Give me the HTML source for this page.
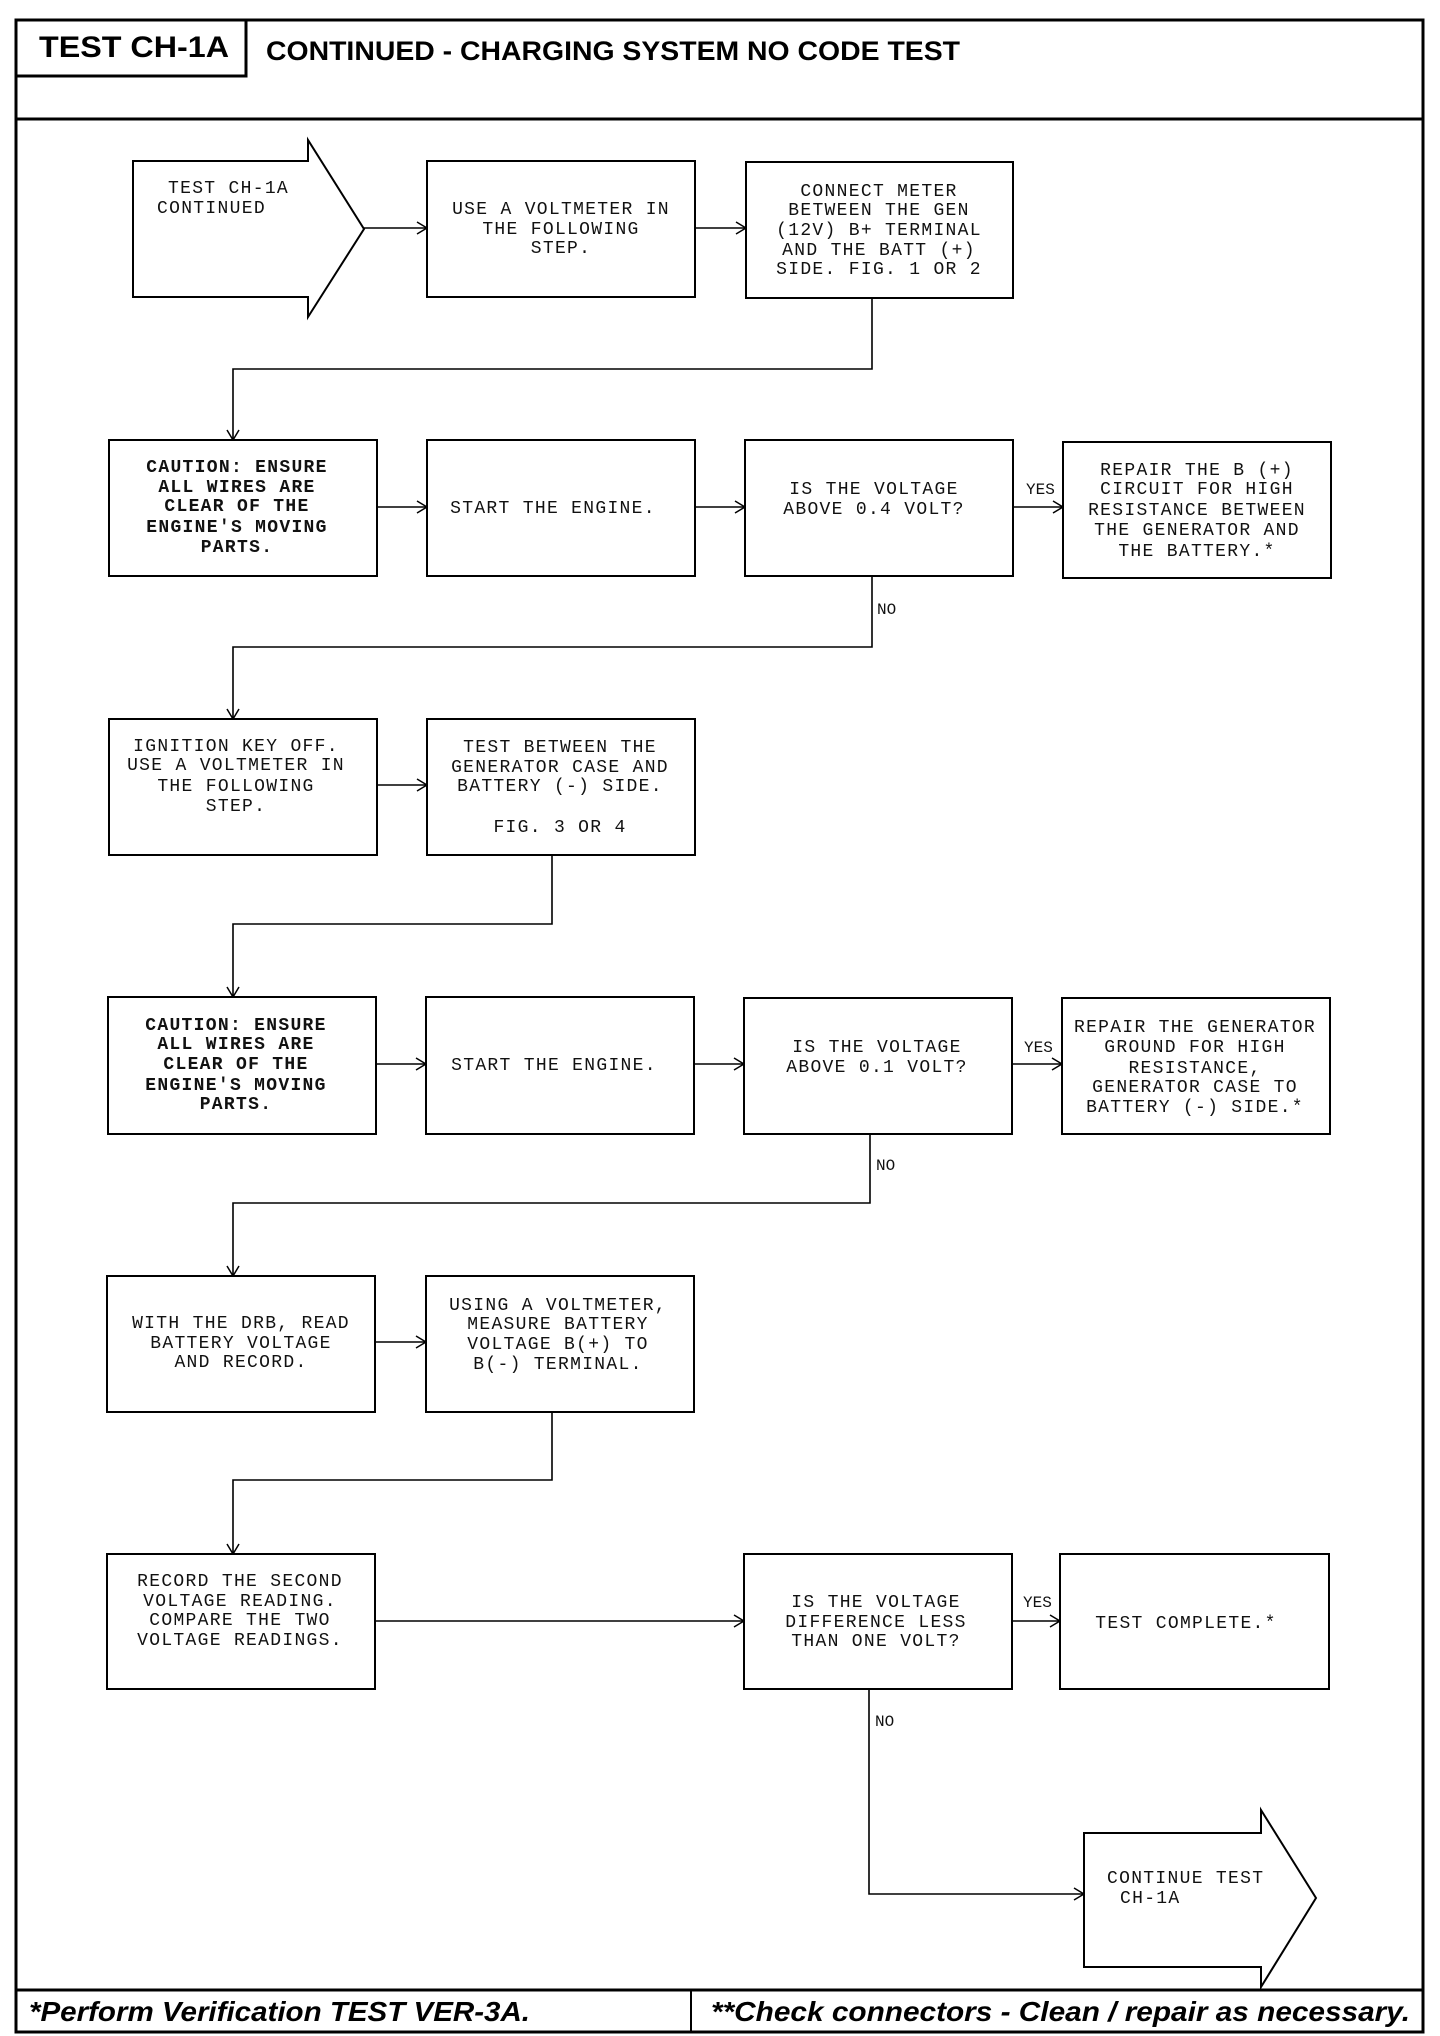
<!DOCTYPE html>
<html><head><meta charset="utf-8"><style>
html,body{margin:0;padding:0;background:#fff;}
svg{display:block;}
.t{font-family:"Liberation Mono",monospace;font-size:18px;letter-spacing:1.3px;fill:#111;text-anchor:middle;}
.l{text-anchor:start;}
.b{font-weight:bold;}
.lab{font-family:"Liberation Mono",monospace;font-size:16px;fill:#111;}
</style></head><body>
<svg width="1440" height="2036" viewBox="0 0 1440 2036" xmlns="http://www.w3.org/2000/svg">
<defs><marker id="a" markerWidth="12" markerHeight="14" refX="11" refY="7" orient="auto" markerUnits="userSpaceOnUse"><path d="M1,1 L11,7 L1,13" fill="none" stroke="#000" stroke-width="1.5"/></marker></defs>
<g fill="none" stroke="#000">
<rect x="16" y="20" width="1407" height="2012" stroke-width="3"/>
<rect x="16" y="20" width="230" height="56" stroke-width="3"/>
<line x1="16" y1="119" x2="1423" y2="119" stroke-width="3"/>
<line x1="16" y1="1990" x2="1423" y2="1990" stroke-width="3"/>
<line x1="691" y1="1990" x2="691" y2="2032" stroke-width="2"/>
</g>
<text x="39" y="57" font-family="Liberation Sans,sans-serif" font-weight="bold" font-size="30" textLength="190" lengthAdjust="spacingAndGlyphs">TEST CH-1A</text>
<text x="266" y="60" font-family="Liberation Sans,sans-serif" font-weight="bold" font-size="27" textLength="694" lengthAdjust="spacingAndGlyphs">CONTINUED - CHARGING SYSTEM NO CODE TEST</text>
<text x="29" y="2021" font-family="Liberation Sans,sans-serif" font-weight="bold" font-style="italic" font-size="28" textLength="501" lengthAdjust="spacingAndGlyphs">*Perform Verification TEST VER-3A.</text>
<text x="711" y="2021" font-family="Liberation Sans,sans-serif" font-weight="bold" font-style="italic" font-size="28" textLength="699" lengthAdjust="spacingAndGlyphs">**Check connectors - Clean / repair as necessary.</text>

<g fill="#fff" stroke="#000" stroke-width="2">
<path d="M133,161 L308,161 L308,140 L364,229 L308,317 L308,297 L133,297 Z"/>
<rect x="427" y="161" width="268" height="136"/>
<rect x="746" y="162" width="267" height="136"/>
<rect x="109" y="440" width="268" height="136"/>
<rect x="427" y="440" width="268" height="136"/>
<rect x="745" y="440" width="268" height="136"/>
<rect x="1063" y="442" width="268" height="136"/>
<rect x="109" y="719" width="268" height="136"/>
<rect x="427" y="719" width="268" height="136"/>
<rect x="108" y="997" width="268" height="137"/>
<rect x="426" y="997" width="268" height="137"/>
<rect x="744" y="998" width="268" height="136"/>
<rect x="1062" y="998" width="268" height="136"/>
<rect x="107" y="1276" width="268" height="136"/>
<rect x="426" y="1276" width="268" height="136"/>
<rect x="107" y="1554" width="268" height="135"/>
<rect x="744" y="1554" width="268" height="135"/>
<rect x="1060" y="1554" width="269" height="135"/>
<path d="M1084,1833 L1261,1833 L1261,1810 L1316,1898 L1261,1987 L1261,1967 L1084,1967 Z"/>
</g>

<g fill="none" stroke="#000" stroke-width="1.6" marker-end="url(#a)">
<path d="M364,228 L427,228"/>
<path d="M695,228 L746,228"/>
<path d="M872,298 L872,369 L233,369 L233,440"/>
<path d="M377,507 L427,507"/>
<path d="M695,507 L745,507"/>
<path d="M1013,507 L1063,507"/>
<path d="M872,576 L872,647 L233,647 L233,719"/>
<path d="M377,785 L427,785"/>
<path d="M552,855 L552,924 L233,924 L233,997"/>
<path d="M376,1064 L426,1064"/>
<path d="M694,1064 L744,1064"/>
<path d="M1012,1064 L1062,1064"/>
<path d="M870,1134 L870,1203 L233,1203 L233,1276"/>
<path d="M376,1342 L426,1342"/>
<path d="M552,1412 L552,1480 L233,1480 L233,1554"/>
<path d="M375,1621 L744,1621"/>
<path d="M1012,1621 L1060,1621"/>
<path d="M869,1689 L869,1894 L1084,1894"/>
</g>

<g class="lab">
<text x="1026" y="494">YES</text>
<text x="877" y="614">NO</text>
<text x="1024" y="1052">YES</text>
<text x="876" y="1170">NO</text>
<text x="1023" y="1607">YES</text>
<text x="875" y="1726">NO</text>
</g>

<g class="t">
<text class="t l" x="168" y="193">TEST CH-1A</text>
<text class="t l" x="157" y="213">CONTINUED</text>
<text x="561" y="214">USE A VOLTMETER IN</text>
<text x="561" y="234">THE FOLLOWING</text>
<text x="561" y="253">STEP.</text>
<text x="879" y="196">CONNECT METER</text>
<text x="879" y="215">BETWEEN THE GEN</text>
<text x="879" y="235">(12V) B+ TERMINAL</text>
<text x="879" y="255">AND THE BATT (+)</text>
<text x="879" y="274">SIDE.  FIG. 1 OR 2</text>

<text class="t b" x="237" y="472">CAUTION: ENSURE</text>
<text class="t b" x="237" y="492">ALL WIRES ARE</text>
<text class="t b" x="237" y="511">CLEAR OF THE</text>
<text class="t b" x="237" y="532">ENGINE'S MOVING</text>
<text class="t b" x="237" y="552">PARTS.</text>
<text x="553" y="513">START THE ENGINE.</text>
<text x="874" y="494">IS THE VOLTAGE</text>
<text x="874" y="514">ABOVE 0.4 VOLT?</text>
<text x="1197" y="475">REPAIR THE B (+)</text>
<text x="1197" y="494">CIRCUIT FOR HIGH</text>
<text x="1197" y="515">RESISTANCE BETWEEN</text>
<text x="1197" y="535">THE GENERATOR AND</text>
<text x="1197" y="556">THE BATTERY.*</text>

<text x="236" y="751">IGNITION KEY OFF.</text>
<text x="236" y="770">USE A VOLTMETER IN</text>
<text x="236" y="791">THE FOLLOWING</text>
<text x="236" y="811">STEP.</text>
<text x="560" y="752">TEST BETWEEN THE</text>
<text x="560" y="772">GENERATOR CASE AND</text>
<text x="560" y="791">BATTERY (-) SIDE.</text>
<text x="560" y="832">FIG. 3 OR 4</text>

<text class="t b" x="236" y="1030">CAUTION: ENSURE</text>
<text class="t b" x="236" y="1049">ALL WIRES ARE</text>
<text class="t b" x="236" y="1069">CLEAR OF THE</text>
<text class="t b" x="236" y="1090">ENGINE'S MOVING</text>
<text class="t b" x="236" y="1109">PARTS.</text>
<text x="554" y="1070">START THE ENGINE.</text>
<text x="877" y="1052">IS THE VOLTAGE</text>
<text x="877" y="1072">ABOVE 0.1 VOLT?</text>
<text x="1195" y="1032">REPAIR THE GENERATOR</text>
<text x="1195" y="1052">GROUND FOR HIGH</text>
<text x="1195" y="1073">RESISTANCE,</text>
<text x="1195" y="1092">GENERATOR CASE TO</text>
<text x="1195" y="1112">BATTERY (-) SIDE.*</text>

<text x="241" y="1328">WITH THE DRB, READ</text>
<text x="241" y="1348">BATTERY VOLTAGE</text>
<text x="241" y="1367">AND RECORD.</text>
<text x="558" y="1310">USING A VOLTMETER,</text>
<text x="558" y="1329">MEASURE BATTERY</text>
<text x="558" y="1349">VOLTAGE B(+) TO</text>
<text x="558" y="1369">B(-) TERMINAL.</text>

<text x="240" y="1586">RECORD THE SECOND</text>
<text x="240" y="1606">VOLTAGE READING.</text>
<text x="240" y="1625">COMPARE THE TWO</text>
<text x="240" y="1645">VOLTAGE READINGS.</text>
<text x="876" y="1607">IS THE VOLTAGE</text>
<text x="876" y="1627">DIFFERENCE LESS</text>
<text x="876" y="1646">THAN ONE VOLT?</text>
<text x="1186" y="1628">TEST COMPLETE.*</text>
<text class="t l" x="1107" y="1883">CONTINUE TEST</text>
<text class="t l" x="1120" y="1903">CH-1A</text>
</g>
</svg>
</body></html>
